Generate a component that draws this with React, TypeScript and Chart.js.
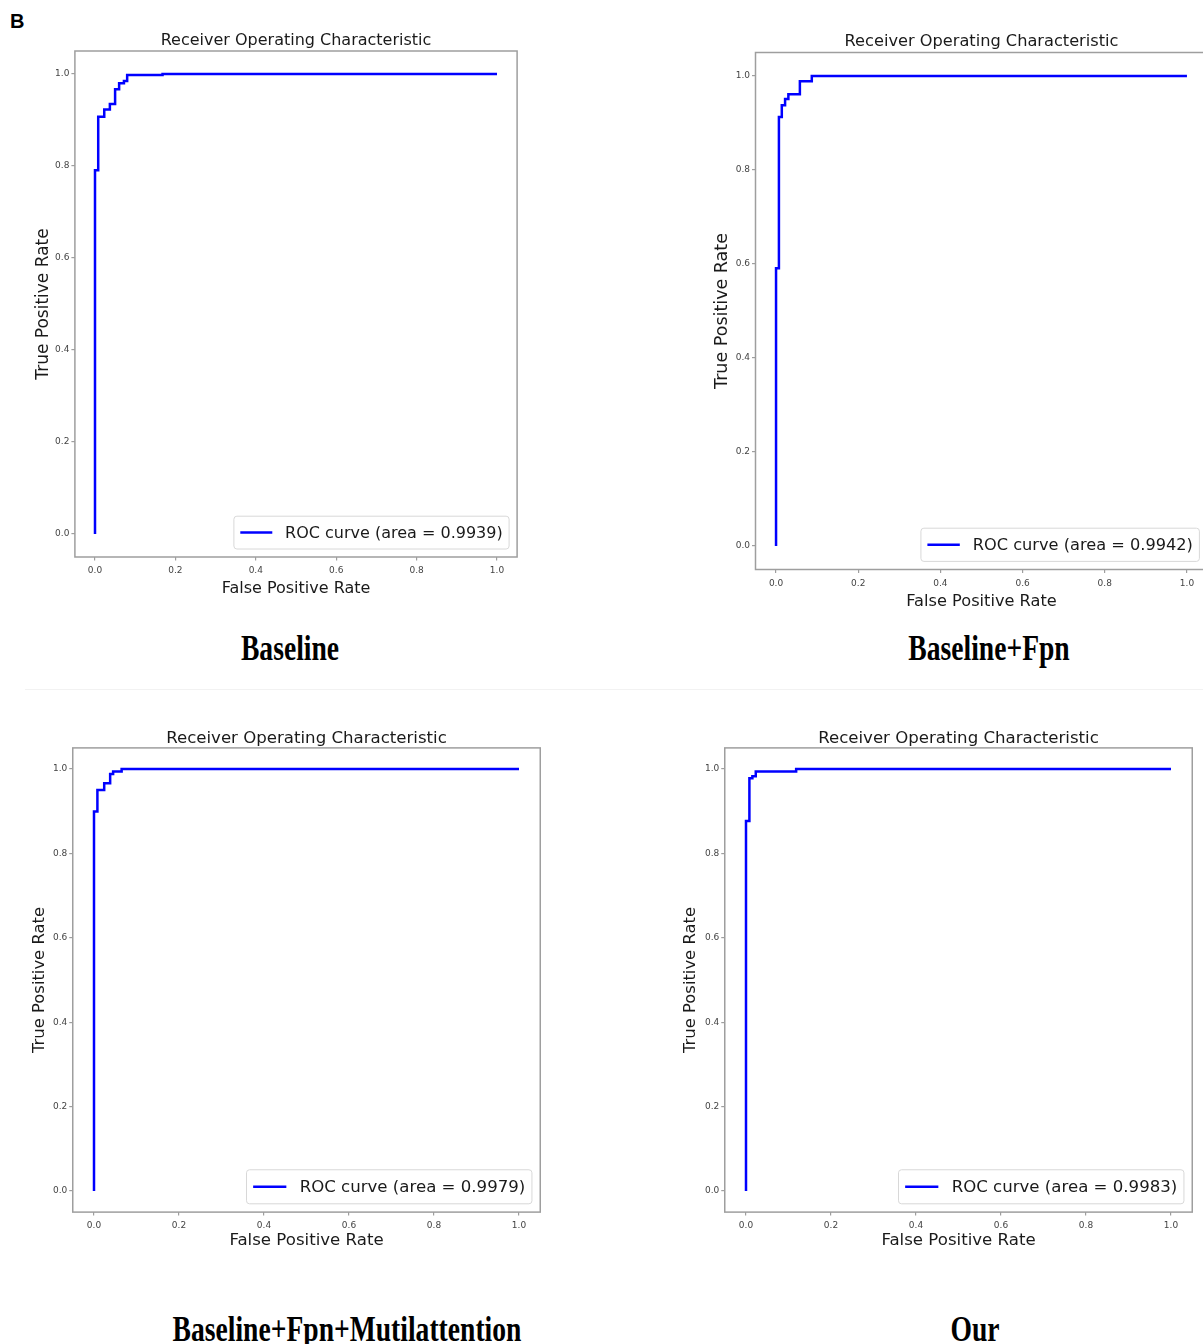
import React, { useEffect, useRef } from "react";
import { Chart, registerables } from "chart.js";

Chart.register(...registerables);

const tickValues = [0, 0.2, 0.4, 0.6, 0.8, 1.0];
const panelTitle = "Receiver Operating Characteristic";
const xAxisLabel = "False Positive Rate";
const yAxisLabel = "True Positive Rate";

const baselineFpr = [0, 0, 0.008, 0.008, 0.023, 0.023, 0.037, 0.037, 0.05, 0.05, 0.06, 0.06, 0.072, 0.072, 0.08, 0.08, 0.168, 0.168, 1.0];
const baselineTpr = [0, 0.791, 0.791, 0.907, 0.907, 0.923, 0.923, 0.935, 0.935, 0.967, 0.967, 0.98, 0.98, 0.985, 0.985, 0.998, 0.998, 1.0, 1.0];

const fpnFpr = [0, 0, 0.007, 0.007, 0.014, 0.014, 0.022, 0.022, 0.03, 0.03, 0.058, 0.058, 0.087, 0.087, 1.0];
const fpnTpr = [0, 0.591, 0.591, 0.913, 0.913, 0.938, 0.938, 0.951, 0.951, 0.961, 0.961, 0.989, 0.989, 1.0, 1.0];

const attnFpr = [0, 0, 0.008, 0.008, 0.024, 0.024, 0.038, 0.038, 0.045, 0.045, 0.065, 0.065, 1.0];
const attnTpr = [0, 0.899, 0.899, 0.95, 0.95, 0.966, 0.966, 0.988, 0.988, 0.994, 0.994, 1.0, 1.0];

const ourFpr = [0, 0, 0.008, 0.008, 0.015, 0.015, 0.023, 0.023, 0.118, 0.118, 1.0];
const ourTpr = [0, 0.877, 0.877, 0.978, 0.978, 0.983, 0.983, 0.994, 0.994, 1.0, 1.0];

const areas = ["0.9939", "0.9942", "0.9979", "0.9983"];
const captions = ["Baseline", "Baseline+Fpn", "Baseline+Fpn+Mutilattention", "Our"];

const FONT = '"DejaVu Sans", sans-serif';
const SPINE = "#9e9e9e";
const TEXT = "#1a1a1a";

type Frame = { l: number; r: number; t: number; b: number };
type PanelCfg = {
  fpr: number[];
  tpr: number[];
  area: string;
  frame: Frame;
  titleY: number;
  ylabX: number;
  xlabY: number;
  fs: number;
  yfs: number;
};

const panels: PanelCfg[] = [
  { fpr: baselineFpr, tpr: baselineTpr, area: areas[0], frame: { l: 74.9, r: 517.1, t: 51, b: 557 }, titleY: 40.5, ylabX: 43.5, xlabY: 588.5, fs: 16, yfs: 17 },
  { fpr: fpnFpr, tpr: fpnTpr, area: areas[1], frame: { l: 755.5, r: 1207.5, t: 52.5, b: 569.5 }, titleY: 41.5, ylabX: 722.5, xlabY: 601.5, fs: 16.2, yfs: 17.5 },
  { fpr: attnFpr, tpr: attnTpr, area: areas[2], frame: { l: 72.75, r: 540.25, t: 747.9, b: 1212.1 }, titleY: 738.5, ylabX: 39.5, xlabY: 1240.5, fs: 16.6, yfs: 16.4 },
  { fpr: ourFpr, tpr: ourTpr, area: areas[3], frame: { l: 724.75, r: 1192.25, t: 747.9, b: 1212.1 }, titleY: 738.5, ylabX: 690.5, xlabY: 1240.5, fs: 16.6, yfs: 16.4 },
];

const captionPos = [
  { x: 290, y: 648 },
  { x: 989, y: 648 },
  { x: 347, y: 1329 },
  { x: 975, y: 1329 },
];

const framePlugin = {
  id: "axFrame",
  beforeDatasetsDraw(chart: any) {
    const { ctx, chartArea } = chart;
    ctx.save();
    ctx.strokeStyle = SPINE;
    ctx.lineWidth = 1.5;
    ctx.strokeRect(chartArea.left, chartArea.top, chartArea.right - chartArea.left, chartArea.bottom - chartArea.top);
    ctx.restore();
  },
};

const legendPlugin = {
  id: "rocLegend",
  afterDatasetsDraw(chart: any, _args: any, opts: any) {
    const { ctx, chartArea } = chart;
    const fs = opts.fontSize || 16;
    const ds = chart.data.datasets[0];
    ctx.save();
    ctx.font = `${fs}px ${FONT}`;
    const tw = ctx.measureText(ds.label).width;
    const pad = 0.4 * fs;
    const handle = 2 * fs;
    const tpad = 0.8 * fs;
    const axpad = 0.5 * fs;
    const w = pad + handle + tpad + tw + pad;
    const h = fs * 1.25 + 2 * pad;
    const x = chartArea.right - axpad - w;
    const y = chartArea.bottom - axpad - h;
    ctx.beginPath();
    ctx.roundRect(x, y, w, h, 3);
    ctx.fillStyle = "rgba(255,255,255,0.9)";
    ctx.fill();
    ctx.strokeStyle = "#d8d8d8";
    ctx.lineWidth = 1;
    ctx.stroke();
    ctx.beginPath();
    ctx.moveTo(x + pad, y + h / 2);
    ctx.lineTo(x + pad + handle, y + h / 2);
    ctx.strokeStyle = ds.borderColor;
    ctx.lineWidth = 2.5;
    ctx.stroke();
    ctx.fillStyle = TEXT;
    ctx.textBaseline = "middle";
    ctx.textAlign = "left";
    ctx.fillText(ds.label, x + pad + handle + tpad, y + h / 2 + 1);
    ctx.restore();
  },
};

function RocPanel({ cfg }: { cfg: PanelCfg }) {
  const ref = useRef<HTMLCanvasElement | null>(null);
  const lh = cfg.fs * 1.2;
  const ylh = cfg.yfs * 1.2;
  const cl = Math.floor(cfg.ylabX - ylh / 2);
  const ct = Math.floor(cfg.titleY - lh / 2);
  const cb = Math.ceil(cfg.xlabY + lh / 2);
  const cr = Math.ceil(cfg.frame.r + 6);
  const W = cr - cl;
  const H = cb - ct;

  useEffect(() => {
    if (!ref.current) return;
    const tickCommon = {
      font: { family: FONT, size: 9 },
      color: "#444",
      callback: (v: any) => Number(v).toFixed(1),
      autoSkip: false,
      maxRotation: 0,
    };
    const gridCommon = {
      display: true,
      drawOnChartArea: false,
      drawTicks: true,
      tickLength: 3.5,
      color: SPINE,
      lineWidth: 1.2,
    };
    const setTicks = (scale: any) => {
      scale.ticks = tickValues.map((v) => ({ value: v }));
    };
    const chart = new Chart(ref.current, {
      type: "line",
      data: {
        datasets: [
          {
            label: `ROC curve (area = ${cfg.area})`,
            data: cfg.fpr.map((x, i) => ({ x, y: cfg.tpr[i] })),
            borderColor: "#0000ff",
            borderWidth: 2.5,
            pointRadius: 0,
            fill: false,
            tension: 0,
          },
        ],
      },
      options: {
        animation: false,
        responsive: false,
        maintainAspectRatio: false,
        events: [],
        layout: { padding: { left: 0, top: 0, bottom: 0, right: cr - cfg.frame.r } },
        plugins: {
          legend: { display: false },
          tooltip: { enabled: false },
          title: {
            display: true,
            text: panelTitle,
            fullSize: false,
            color: TEXT,
            font: { family: FONT, size: cfg.fs, weight: "normal", lineHeight: 1.2 },
            padding: { top: cfg.titleY - ct - lh / 2, bottom: cfg.frame.t - cfg.titleY - lh / 2 },
          },
          rocLegend: { fontSize: cfg.fs },
        } as any,
        scales: {
          x: {
            type: "linear",
            min: -0.05,
            max: 1.05,
            afterBuildTicks: setTicks,
            afterFit: (s: any) => {
              s.height = cb - cfg.frame.b;
            },
            ticks: { ...tickCommon, padding: 5 },
            grid: gridCommon,
            border: { display: false },
            title: {
              display: true,
              text: xAxisLabel,
              color: TEXT,
              font: { family: FONT, size: cfg.fs, lineHeight: 1.2 },
              padding: { top: 0, bottom: cb - cfg.xlabY - lh / 2 },
            },
          },
          y: {
            type: "linear",
            min: -0.05,
            max: 1.05,
            afterBuildTicks: setTicks,
            afterFit: (s: any) => {
              s.width = cfg.frame.l - cl;
            },
            ticks: { ...tickCommon, padding: 2 },
            grid: gridCommon,
            border: { display: false },
            title: {
              display: true,
              text: yAxisLabel,
              color: TEXT,
              font: { family: FONT, size: cfg.yfs, lineHeight: 1.2 },
              padding: { top: cfg.ylabX - cl - ylh / 2, bottom: 0 },
            },
          },
        },
      } as any,
      plugins: [framePlugin, legendPlugin],
    });
    return () => chart.destroy();
  }, []);

  return (
    <canvas
      ref={ref}
      width={W}
      height={H}
      style={{ position: "absolute", left: cl, top: ct, width: W, height: H }}
    />
  );
}

export default function App() {
  return (
    <div
      style={{
        position: "absolute",
        left: 0,
        top: 0,
        width: 1203,
        height: 1344,
        overflow: "hidden",
        background: "#ffffff",
      }}
    >
      <div
        style={{
          position: "absolute",
          left: 10,
          top: 11,
          fontFamily: '"Liberation Sans", Arial, sans-serif',
          fontWeight: "bold",
          fontSize: 20,
          lineHeight: "20px",
          color: "#000",
        }}
      >
        B
      </div>
      {panels.map((p, i) => (
        <RocPanel key={i} cfg={p} />
      ))}
      <div
        style={{
          position: "absolute",
          left: 25,
          top: 689,
          width: 1178,
          height: 1,
          background: "#f2f2f2",
        }}
      />
      {captions.map((c, i) => (
        <div
          key={c}
          style={{
            position: "absolute",
            left: captionPos[i].x,
            top: captionPos[i].y - 14,
            height: 28,
            lineHeight: "28px",
            fontFamily: '"Liberation Serif", "Times New Roman", serif',
            fontWeight: "bold",
            fontSize: 27.6,
            color: "#000",
            whiteSpace: "nowrap",
            transform: "translateX(-50%) scaleY(1.3)",
            transformOrigin: "center center",
          }}
        >
          {c}
        </div>
      ))}
    </div>
  );
}
